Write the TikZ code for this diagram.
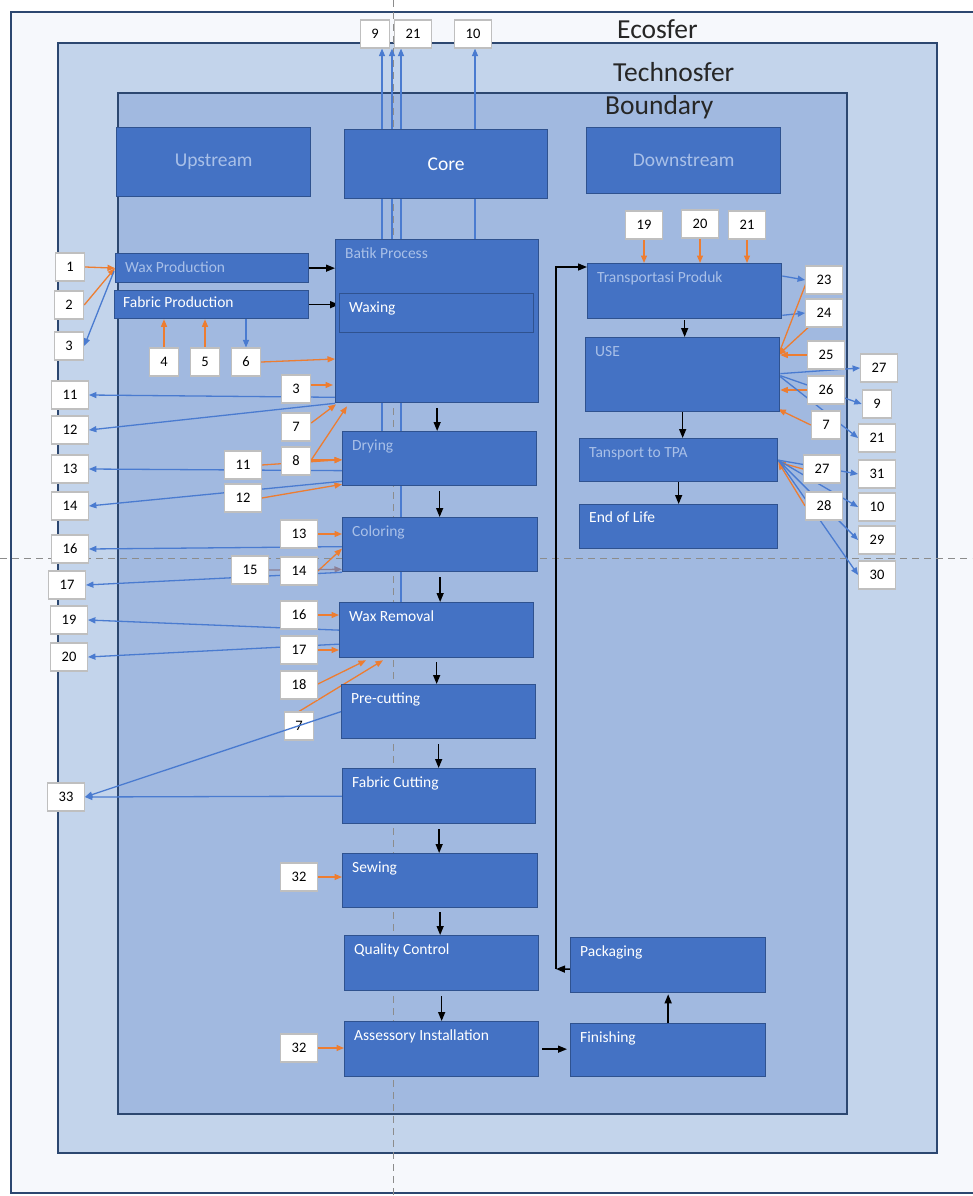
\documentclass[tikz,border=0pt]{standalone}
\usepackage{fontspec}
\setmainfont{Carlito}
\usepackage{tikz}
\usetikzlibrary{arrows.meta,calc,backgrounds}
\definecolor{ecofill}{HTML}{F6F8FC}
\definecolor{technofill}{HTML}{C3D4EB}
\definecolor{boundfill}{HTML}{A1B9E0}
\definecolor{framedark}{HTML}{2C4770}
\definecolor{procblue}{HTML}{4472C4}
\definecolor{procline}{HTML}{2F528F}
\definecolor{fadetext}{HTML}{A9C0E8}
\definecolor{numline}{HTML}{BFBFBF}
\definecolor{flowin}{HTML}{ED7D31}
\definecolor{flowout}{HTML}{4A7BD0}
\definecolor{flowmix}{HTML}{8B7F96}
\definecolor{guide}{HTML}{8C8C8C}

\begin{document}
\begin{tikzpicture}[
  x=1pt, y=-1pt,
  ringframe/.style = {draw=framedark, line width=2.8pt},
  guideline/.style = {draw=guide, line width=0.9pt, dash pattern=on 7pt off 5pt},
  spheretitle/.style = {anchor=base west, inner sep=0pt, text=black!85,
                        font=\fontsize{27.5}{32}\selectfont},
  stage/.style = {rectangle, draw=procline, line width=1.3pt, fill=procblue,
                  anchor=north west, inner sep=0pt, font=\fontsize{19.5}{23}\selectfont},
  proc/.style = {rectangle, draw=procline, line width=1.3pt, fill=procblue,
                 anchor=north west, inner sep=0pt},
  ptext/.style = {anchor=north west, inner xsep=10pt, inner ysep=9pt,
                  font=\fontsize{15.5}{18}\selectfont, text=white},
  pdim/.style = {ptext, text=fadetext},
  num/.style = {rectangle, draw=numline, line width=1.1pt, fill=white,
                minimum width=27pt, minimum height=28pt, inner xsep=11pt, inner ysep=0pt,
                font=\fontsize{14.5}{17}\selectfont},
  inflow/.style = {-{Triangle[length=7.5pt,width=6pt]}, draw=flowin, line width=1.3pt},
  outflow/.style = {-{Triangle[length=7.5pt,width=6pt]}, draw=flowout, line width=1.3pt},
  mixflow/.style = {inflow, draw=flowmix},
  seq/.style = {-{Triangle[length=9pt,width=7pt]}, draw=black, line width=1.4pt},
]
\useasboundingbox (0,0) rectangle (972,1196);

\begin{scope}[on background layer]
  \fill[white] (0,0) rectangle (972,1196);
  \draw[ringframe, fill=ecofill] (11,12) rectangle (995,1193);
  \draw[ringframe, fill=technofill] (58,43) rectangle (937,1153);
  \draw[ringframe, fill=boundfill] (118,93) rectangle (847,1114);
  \draw[guideline] (393,0) -- (393,1196);
  \draw[guideline] (0,558) -- (972,558);
\end{scope}

\node[spheretitle] (ecoT) at (617,39) {Ecosfer};
\node[spheretitle] (technoT) at (613,82) {Technosfer};
\node[spheretitle] (boundT) at (605,115) {Boundary};

\node[stage, minimum width=194pt, minimum height=69pt, text=fadetext] (upstream) at (116,127) {Upstream};
\node[stage, minimum width=203pt, minimum height=69pt, text=white] (core) at (344,129) {Core};
\node[stage, minimum width=194pt, minimum height=66pt, text=fadetext] (downstream) at (586,127) {Downstream};

\node[proc, minimum width=193pt, minimum height=29pt, label={[pdim]north west:Wax Production}] (wax) at (115,253) {};
\node[proc, minimum width=194pt, minimum height=28pt, label={[ptext, inner ysep=7pt, inner xsep=9pt]north west:Fabric Production}] (fab) at (114,290) {};
\node[proc, minimum width=203pt, minimum height=163pt, label={[pdim]north west:Batik Process}] (batik) at (335,239) {};
\node[proc, minimum width=194pt, minimum height=39pt, label={[ptext]north west:Waxing}] (waxing) at (339,293) {};
\node[proc, minimum width=194pt, minimum height=54pt, label={[pdim]north west:Drying}] (drying) at (342,431) {};
\node[proc, minimum width=195pt, minimum height=54pt, label={[pdim]north west:Coloring}] (coloring) at (342,517) {};
\node[proc, minimum width=194pt, minimum height=55pt, label={[ptext]north west:Wax Removal}] (waxrem) at (339,602) {};
\node[proc, minimum width=194pt, minimum height=54pt, label={[ptext]north west:Pre-cutting}] (precut) at (341,684) {};
\node[proc, minimum width=193pt, minimum height=55pt, label={[ptext]north west:Fabric Cutting}] (cutting) at (342,768) {};
\node[proc, minimum width=195pt, minimum height=54pt, label={[ptext]north west:Sewing}] (sewing) at (342,853) {};
\node[proc, minimum width=194pt, minimum height=55pt, label={[ptext]north west:Quality Control}] (qc) at (344,935) {};
\node[proc, minimum width=194pt, minimum height=55pt, label={[ptext]north west:Assessory Installation}] (assy) at (344,1021) {};
\node[proc, minimum width=195pt, minimum height=55pt, label={[ptext]north west:Packaging}] (packaging) at (570,937) {};
\node[proc, minimum width=195pt, minimum height=53pt, label={[ptext]north west:Finishing}] (finishing) at (570,1023) {};

\node[proc, minimum width=194pt, minimum height=55pt, label={[pdim]north west:Transportasi Produk}] (transport) at (587,263) {};
\node[proc, minimum width=194pt, minimum height=74pt, label={[pdim]north west:USE}] (use) at (585,337) {};
\node[proc, minimum width=198pt, minimum height=43pt, label={[pdim]north west:Tansport to TPA}] (totpa) at (579,438) {};
\node[proc, minimum width=198pt, minimum height=44pt, label={[ptext, inner ysep=8pt]north west:End of Life}] (eol) at (579,504) {};

\node[num] (n9a) at (375,34) {9};
\node[num] (n21a) at (413,34) {21};
\node[num] (n10a) at (473,34) {10};

\node[num] (n1) at (70,267) {1};
\node[num] (n2) at (69,305) {2};
\node[num] (n3a) at (69,346) {3};
\node[num] (n4) at (164,362) {4};
\node[num] (n5) at (205,362) {5};
\node[num] (n6) at (246,362) {6};
\node[num] (n3b) at (296,389) {3};
\node[num] (n11a) at (70,395) {11};
\node[num] (n12a) at (70,430) {12};
\node[num] (n7a) at (296,427) {7};
\node[num] (n8) at (296,461) {8};
\node[num] (n11b) at (243,465) {11};
\node[num] (n13a) at (70,469) {13};
\node[num] (n12b) at (243,498) {12};
\node[num] (n14a) at (70,506) {14};
\node[num] (n13b) at (299,534) {13};
\node[num] (n16a) at (70,549) {16};
\node[num] (n15) at (250,570) {15};
\node[num] (n14b) at (299,571) {14};
\node[num] (n17a) at (67,585) {17};
\node[num] (n16b) at (299,615) {16};
\node[num] (n19a) at (69,620) {19};
\node[num] (n17b) at (299,650) {17};
\node[num] (n20a) at (69,657) {20};
\node[num] (n18) at (299,685) {18};
\node[num] (n7b) at (299,726) {7};
\node[num] (n33) at (66,797) {33};
\node[num] (n32a) at (299,877) {32};
\node[num] (n32b) at (299,1048) {32};

\node[num] (n19b) at (644,225) {19};
\node[num] (n20b) at (700,224) {20};
\node[num] (n21b) at (747,225) {21};
\node[num] (n23) at (824,280) {23};
\node[num] (n24) at (824,313) {24};
\node[num] (n25) at (826,355) {25};
\node[num] (n27a) at (879,368) {27};
\node[num] (n26) at (826,390) {26};
\node[num] (n9b) at (877,404) {9};
\node[num] (n7c) at (826,425) {7};
\node[num] (n21c) at (877,438) {21};
\node[num] (n27b) at (822,469) {27};
\node[num] (n31) at (877,474) {31};
\node[num] (n28) at (824,506) {28};
\node[num] (n10b) at (877,507) {10};
\node[num] (n29) at (877,540) {29};
\node[num] (n30) at (877,575) {30};

\begin{scope}[on background layer]
  \coordinate (v9) at ($(drying.north west)+(40,0)$);
  \coordinate (v21a) at ($(batik.north west)+(57,0)$);
  \coordinate (v21b) at ($(waxrem.north west)+(62,0)$);
  \coordinate (v10) at ($(batik.north west)+(140,0)$);
  \draw[outflow] (v9) -- (v9 |- n9a.south);
  \draw[outflow] (v21a) -- (v21a |- n21a.south);
  \draw[outflow] (v21b) -- (v21b |- n21a.south);
  \draw[outflow] (v10) -- (v10 |- n10a.south);

  \draw[inflow] (n1.east) -- (wax.west);
  \draw[inflow] (n2.east) -- (wax.west);
  \draw[outflow] ($(wax.west)+(-1,3)$) -- (n3a.east);
  \draw[inflow] (n4.north) -- (n4.north |- fab.south);
  \draw[inflow] (n5.north) -- (n5.north |- fab.south);
  \draw[outflow] (n6.north |- fab.south) -- (n6.north);
  \draw[seq] (wax.east) -- (wax.east -| batik.west);
  \draw[seq] (fab.east) -- (fab.east -| waxing.west);
  \draw[inflow] (n6.east) -- ($(n6.east -| batik.west)+(0,-3)$);
  \draw[inflow] ($(n3b.east)+(0,-4)$) -- ($(n3b.east -| batik.west)+(-2,-4)$);
  \draw[outflow] ($(batik.south west)+(0,-6)$) -- (n11a.east);
  \draw[outflow] (batik.south west) -- (n12a.east);
  \draw[inflow] ($(n7a.east)+(0,-4)$) -- ($(batik.south west)+(1,1)$);
  \draw[inflow] ($(n8.east)+(0,-1)$) -- ($(batik.south west)+(12,3)$);

  \draw[inflow] (n11b.east) -- ($(drying.west)+(0,1)$);
  \draw[inflow] ($(n8.east)+(0,-1)$) -- ($(n8.east -| drying.west)+(0,-1)$);
  \draw[outflow] ($(drying.west)+(0,12)$) -- (n13a.east);
  \draw[inflow] (n12b.east) -- ($(drying.south west)+(0,-2)$);
  \draw[outflow] ($(drying.south west)+(0,-5)$) -- (n14a.east);

  \draw[inflow] (n13b.east) -- (n13b.east -| coloring.west);
  \draw[outflow] ($(coloring.west)+(0,2)$) -- (n16a.east);
  \draw[inflow] (n14b.east) -- ($(coloring.west)+(0,4)$);
  \draw[mixflow] (n15.east) -- ($(coloring.south west)+(0,-3)$);
  \draw[outflow] (coloring.south west) -- (n17a.east);

  \draw[inflow] (n16b.east) -- (n16b.east -| waxrem.west);
  \draw[outflow] (waxrem.west) -- (n19a.east);
  \draw[outflow] ($(waxrem.west)+(0,14)$) -- (n20a.east);
  \draw[inflow] (n17b.east) -- (n17b.east -| waxrem.west);
  \draw[inflow] ($(n18.east)+(0,-1)$) -- ($(waxrem.south west)+(27,2)$);
  \draw[inflow] (n7b.north) -- ($(waxrem.south west)+(44,2)$);

  \draw[outflow] (cutting.west) -- (n33.east);
  \draw[inflow] (n32a.east) -- (n32a.east -| sewing.west);
  \draw[inflow] (n32b.east) -- (n32b.east -| assy.west);

  \draw[seq, shorten <=5pt] (batik.south) -- (batik.south |- drying.north);
  \draw[seq, shorten <=5pt] (drying.south) -- (drying.south |- coloring.north);
  \draw[seq, shorten <=5pt] (coloring.south) -- (coloring.south |- waxrem.north);
  \draw[seq, shorten <=4pt] (waxrem.south) -- (waxrem.south |- precut.north);
  \draw[seq, shorten <=5pt] (precut.south) -- (precut.south |- cutting.north);
  \draw[seq, shorten <=5pt] (cutting.south) -- (cutting.south |- sewing.north);
  \draw[seq, shorten <=4pt] (sewing.south) -- (sewing.south |- qc.north);
  \draw[seq, shorten <=5pt] (qc.south) -- (qc.south |- assy.north);
  \draw[seq, shorten <=3pt, shorten >=3pt] (assy.east) -- (assy.east -| finishing.west);
  \draw[seq, shorten >=1pt] (finishing.north) -- (finishing.north |- packaging.south);
  \coordinate (turn) at (556,969);
  \draw[seq] ($(packaging.west)+(0,4)$) -- (turn);
  \draw[seq] (turn) |- ($(transport.north west)+(0,4)$);

  \draw[seq, shorten <=1pt] (transport.south) -- (transport.south |- use.north);
  \draw[seq] (use.south) -- (use.south |- totpa.north);
  \draw[seq] (totpa.south) -- (totpa.south |- eol.north);
  \draw[inflow] (n19b.south) -- (n19b.south |- transport.north);
  \draw[inflow] (n20b.south) -- (n20b.south |- transport.north);
  \draw[inflow] (n21b.south) -- (n21b.south |- transport.north);
  \draw[outflow] ($(transport.north east)+(0,13)$) -- (n23.west);
  \draw[outflow] ($(transport.south east)+(0,-4)$) -- (n24.west);
  \draw[inflow] ($(n23.west)+(1,3)$) -- ($(use.north east)+(-2,18)$);
  \draw[inflow] ($(n24.south west)+(3,0)$) -- ($(use.north east)+(-2,18)$);
  \draw[inflow] (n25.west) -- (n25.west -| use.east);
  \draw[inflow] (n26.west) -- (n26.west -| use.east);
  \draw[inflow] (n7c.west) -- ($(use.south east)+(-2,-3)$);
  \draw[outflow] ($(use.east)+(0,-1)$) -- (n27a.west);
  \draw[outflow] ($(use.east)+(0,1)$) -- (n9b.west);
  \draw[outflow] ($(use.east)+(0,2)$) -- (n21c.west);
  \draw[inflow] (n27b.west) -- ($(totpa.east)+(0,2)$);
  \draw[inflow] (n28.west) -- ($(totpa.east)+(0,2)$);
  \draw[outflow] (totpa.east) -- (n31.west);
  \draw[outflow] (totpa.east) -- (n10b.west);
  \draw[outflow] (totpa.east) -- (n29.west);
  \draw[outflow] (totpa.east) -- (n30.west);
\end{scope}

\draw[outflow] (precut.west) -- (n33.east);
\end{tikzpicture}
\end{document}
